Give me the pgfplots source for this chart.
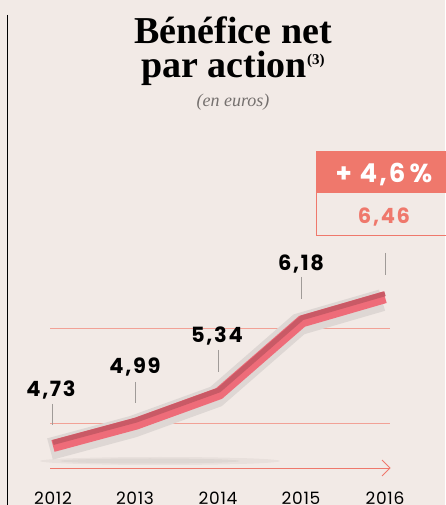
\documentclass[border=0pt]{standalone}
\usepackage{pgfplots}
\pgfplotsset{compat=1.18}
\usepackage{fontspec}
\setmainfont{Poppins}
\newfontfamily\pop[LetterSpace=8]{Poppins}
\newfontfamily\popy[LetterSpace=4]{Poppins}
\newfontfamily\tit{Liberation Serif}
\newfontfamily\titi{Liberation Serif Italic}
\definecolor{bgc}{HTML}{F2EAE6}
\definecolor{salmon}{HTML}{EF786C}
\definecolor{salmonl}{HTML}{F2A196}
\definecolor{redd}{HTML}{C95A66}
\definecolor{redl}{HTML}{EE6C79}
\definecolor{shad}{HTML}{DED7D4}
\definecolor{tickg}{HTML}{A09B98}
\definecolor{subg}{HTML}{75706E}
\begin{document}
\begin{tikzpicture}
\useasboundingbox (0,0) rectangle (445pt,505pt);
\fill[bgc] (0,0) rectangle (445pt,505pt);
\begin{scope}[x=1pt,y=-1pt,shift={(0,505pt)}]
  % left rule
  \draw[black, line width=1.2pt] (7.5,15) -- (7.5,505);
  % reference lines
  \draw[salmonl, line width=0.9pt] (50,423) -- (390,423);
  \draw[salmonl, line width=0.9pt] (50,328) -- (390,328);
  % arrow
  \draw[salmon, line width=0.9pt] (50,468) -- (390,468);
  \draw[salmon, line width=0.9pt] (382,460) -- (390,468) -- (382,476);
  % soft shadow
  \fill[black, opacity=0.04] (160,461) ellipse (120 and 4);
  \fill[black, opacity=0.04] (150,461) ellipse (90 and 2.5);
  % ticks
  \draw[tickg, line width=0.8pt] (52,404) -- (52,425);
  \draw[tickg, line width=0.8pt] (135,382) -- (135,403);
  \draw[tickg, line width=0.8pt] (218,350) -- (218,372);
  \draw[tickg, line width=0.8pt] (301,277) -- (301,299);
  \draw[tickg, line width=0.8pt] (385,253) -- (385,275);
  % 2016 box
  \fill[salmon] (316,151) rectangle (446,193.5);
  \draw[salmon, line width=0.9pt] (316.5,193) -- (316.5,235) -- (446,235);
\end{scope}
\begin{axis}[at={(0,0)}, anchor=south west, scale only axis,
  width=445pt, height=505pt,
  xmin=2011.3614, xmax=2016.7229, ymin=4.044, ymax=9.916,
  hide axis, clip=false]
\addplot[shad, line width=22pt, line join=miter, xshift=-3pt, yshift=-3pt]
  coordinates {(2012,4.73) (2013,4.99) (2014,5.34) (2015,6.18) (2016,6.46)};
\addplot[redl, line width=12pt, line join=miter]
  coordinates {(2012,4.73) (2013,4.99) (2014,5.34) (2015,6.18) (2016,6.46)};
\addplot[redd, line width=5pt, line join=miter, yshift=3.5pt]
  coordinates {(2012,4.73) (2013,4.99) (2014,5.34) (2015,6.18) (2016,6.46)};
\end{axis}
\begin{scope}[x=1pt,y=-1pt,shift={(0,505pt)}]
  % title
  \node[anchor=base, inner sep=0, align=center, font=\tit\fontsize{38}{34}\selectfont\bfseries] at (233,78)
    {Bénéfice net\\ par action\raisebox{13pt}{\fontsize{15}{15}\selectfont(3)}};
  \node[anchor=base, inner sep=0, text=subg] at (233,107) {\titi\fontsize{18}{20}\selectfont (en euros)};
  % value labels
  \node[anchor=base, inner sep=0] at (51,397) {\pop\fontsize{21}{24}\selectfont\bfseries 4,73};
  \node[anchor=base, inner sep=0] at (135,374) {\pop\fontsize{21}{24}\selectfont\bfseries 4,99};
  \node[anchor=base, inner sep=0] at (217,343) {\pop\fontsize{21}{24}\selectfont\bfseries 5,34};
  \node[anchor=base, inner sep=0] at (301,271) {\pop\fontsize{21}{24}\selectfont\bfseries 6,18};
  \node[anchor=base, inner sep=0, text=white] at (384,183) {\pop\fontsize{26}{28}\selectfont\bfseries + 4,6\,\%};
  \node[anchor=base, inner sep=0, text=salmon] at (384,224) {\pop\fontsize{21}{24}\selectfont\bfseries 6,46};
  % years
  \foreach \x/\y in {53/2012,135/2013,218/2014,301/2015,385/2016}
    \node[anchor=base, inner sep=0] at (\x,504) {\popy\fontsize{17}{20}\selectfont \y};
\end{scope}
\end{tikzpicture}
\end{document}
